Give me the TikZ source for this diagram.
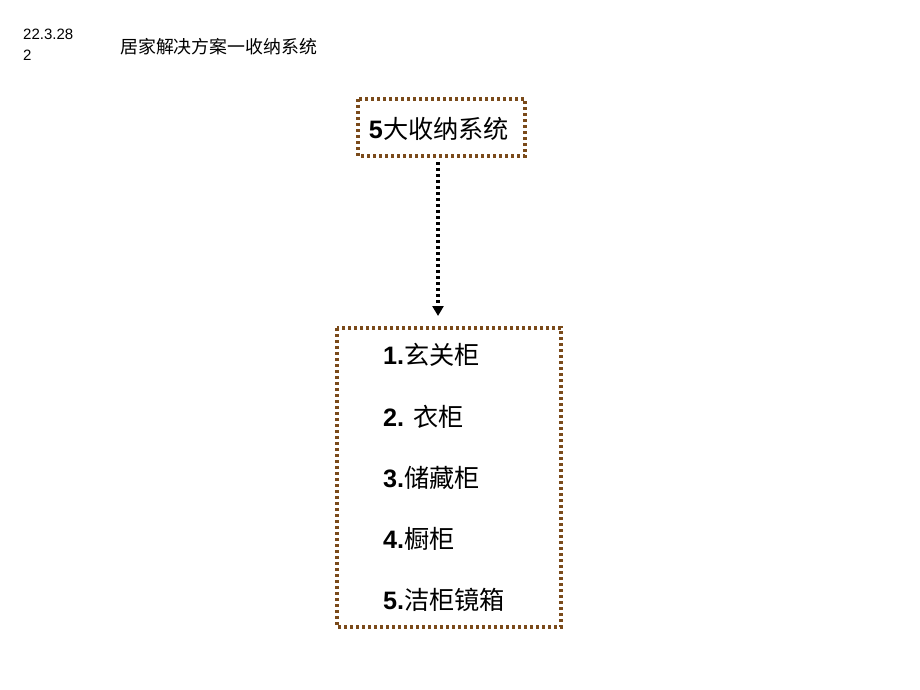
\documentclass[tikz,border=0pt]{standalone}
\usepackage{fontspec}
\setmainfont{Liberation Sans}
\newfontfamily\cjk{Noto Sans CJK SC}
\usetikzlibrary{arrows.meta}
\definecolor{boxbrown}{HTML}{7A4A1A}
\tikzset{
  dotbox/.style={draw=boxbrown, line width=3.2pt, dash pattern=on 3pt off 3pt},
  itemtxt/.style={anchor=west, inner sep=0pt, font=\fontsize{25.2}{30}\selectfont},
  conn/.style={draw=black, line width=3.2pt, dash pattern=on 3pt off 3pt, -{Triangle[width=11pt,length=10pt]}}
}
\begin{document}
\begin{tikzpicture}[x=1pt,y=-1pt]
\useasboundingbox[fill=white] (0,0) rectangle (920,690);
\node[anchor=west, inner sep=0pt, align=left, font=\fontsize{15}{21}\selectfont] (date) at (23,45) {22.3.28\\2};
\node[anchor=west, inner sep=0pt, font=\fontsize{17.9}{20}\selectfont\cjk] (title) at (120,47) {居家解决方案一收纳系统};
\draw[dotbox] (358,99) rectangle (525,156);
\node[inner sep=0pt, font=\fontsize{25.2}{28}\selectfont] (top) at (439,129) {\textbf{5}{\cjk 大收纳系统}};
\coordinate (topb) at (438,162);
\draw[dotbox] (337,328) rectangle (561,627);
\coordinate (botb) at (438,316);
\draw[conn] (topb) -- (botb);
\node[itemtxt] (i1) at (383,355) {\textbf{1.}{\cjk 玄关柜}};
\node[itemtxt] (i2) at (383,417) {\textbf{2.} {\cjk 衣柜}};
\node[itemtxt] (i3) at (383,478) {\textbf{3.}{\cjk 储藏柜}};
\node[itemtxt] (i4) at (383,539) {\textbf{4.}{\cjk 橱柜}};
\node[itemtxt] (i5) at (383,600) {\textbf{5.}{\cjk 洁柜镜箱}};
\end{tikzpicture}
\end{document}
